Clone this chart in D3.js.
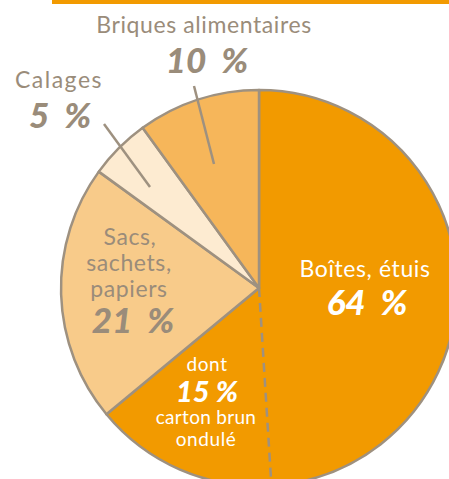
<!DOCTYPE html>
<html><head><meta charset="utf-8">
<script src="https://cdn.jsdelivr.net/npm/d3@7"></script>
<style>
html,body{margin:0;padding:0;background:#fff;}
svg{display:block;}
text{white-space:pre;}
</style></head>
<body>
<script>
const categories = ["Boîtes, étuis", "Sacs, sachets, papiers", "Calages", "Briques alimentaires"];
const values = [64, 21, 5, 10];
const colors = ["#F29A00", "#F8CB8A", "#FDEBD1", "#F6B65A"];
const subCategory = "carton brun ondulé";
const subValue = 15; // part of "Boîtes, étuis", adjacent to "Sacs"

const W = 449, H = 479;
const cx = 259, cy = 288, R = 198;
const stroke = "#9E9180";
const textGrey = "#9A8C7A";
const fontLight = "Lato, 'Open Sans', sans-serif";

const svg = d3.select("body").append("svg").attr("width", W).attr("height", H);

// top bar
svg.append("rect").attr("x", 52).attr("y", 0).attr("width", W - 52).attr("height", 4).attr("fill", "#F29A00");

const pie = d3.pie().sort(null).value(d => d)(values);
const arc = d3.arc().innerRadius(0).outerRadius(R);
const g = svg.append("g").attr("transform", `translate(${cx},${cy})`);

g.selectAll("path.slice").data(pie).join("path")
  .attr("class", "slice")
  .attr("d", arc)
  .attr("fill", (d, i) => colors[i])
  .attr("stroke", stroke)
  .attr("stroke-width", 2.5)
  .attr("stroke-linejoin", "round");

// dashed line for sub-share
const total = d3.sum(values);
const angScale = d3.scaleLinear().domain([0, total]).range([0, 2 * Math.PI]);
const subAngle = angScale(values[0] - subValue);
g.append("line")
  .attr("x1", 0).attr("y1", 0)
  .attr("x2", R * Math.sin(subAngle)).attr("y2", -R * Math.cos(subAngle))
  .attr("stroke", stroke).attr("stroke-width", 2.5)
  .attr("stroke-dasharray", "9,6");

// leader lines
function leader(x1, y1, x2, y2) {
  svg.append("line").attr("x1", x1).attr("y1", y1).attr("x2", x2).attr("y2", y2)
    .attr("stroke", stroke).attr("stroke-width", 2.5);
}
leader(194, 86, 214, 164);
leader(104, 124, 150, 187);

function txt(x, y, s, opts) {
  const t = svg.append("text").attr("x", x).attr("y", y).text(s)
    .attr("text-anchor", "middle")
    .attr("font-family", fontLight)
    .attr("font-size", opts.size || 21)
    .attr("font-weight", opts.bold ? 900 : 400)
    .attr("font-style", opts.bold ? "italic" : "normal")
    .attr("letter-spacing", opts.ls != null ? opts.ls : (opts.bold ? 0 : 0.6))
    .attr("fill", opts.fill || textGrey);
  return t;
}

// Briques alimentaires
txt(204, 33, categories[3], {size: 23});
txt(207, 73, values[3] + "  %", {size: 35, bold: true});
// Calages
txt(59, 88, categories[2], {size: 23, ls: 1.5});
txt(60, 128, values[2] + "  %", {size: 35, bold: true});
// Sacs
txt(130, 245, "Sacs,", {size: 23});
txt(129, 271, "sachets,", {size: 23});
txt(129, 297, "papiers", {size: 23});
txt(133, 333, values[1] + "  %", {size: 35, bold: true});
// Boîtes
txt(365, 277, categories[0], {size: 23, fill: "#fff"});
txt(367, 315, values[0] + "  %", {size: 35, bold: true, fill: "#fff"});
// sub
txt(207, 371, "dont", {size: 19, fill: "#fff"});
txt(207, 402, subValue + " %", {size: 29, bold: true, fill: "#fff"});
txt(206, 424, "carton brun", {size: 19, fill: "#fff", ls: 0.3});
txt(206, 446, "ondulé", {size: 19, fill: "#fff"});
</script>
</body></html>
